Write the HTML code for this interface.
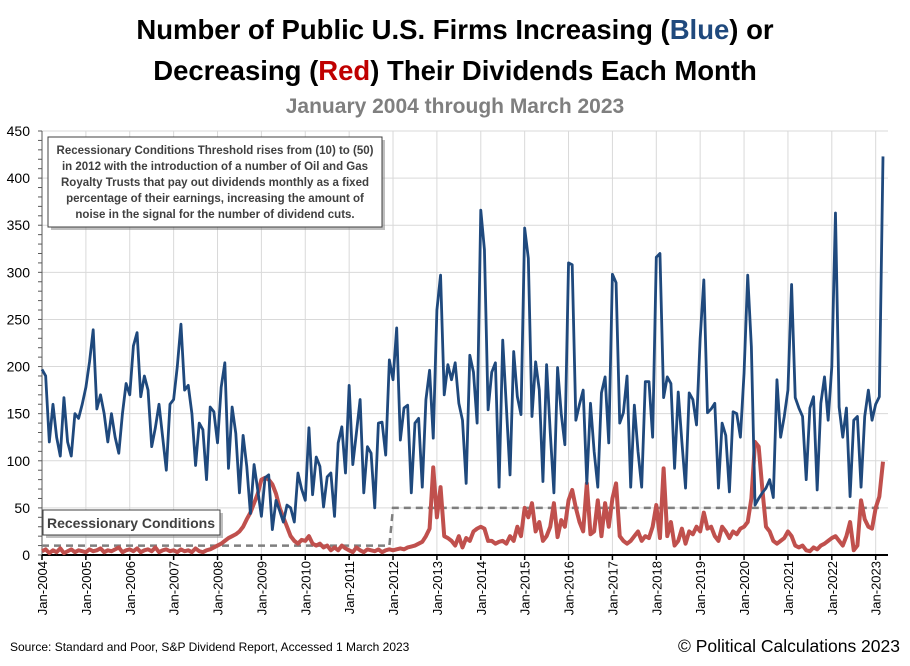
<!DOCTYPE html>
<html><head><meta charset="utf-8"><style>
body{margin:0;background:#fff;width:910px;height:661px;overflow:hidden;font-family:"Liberation Sans",sans-serif}
</style></head><body>
<svg id="chart" width="910" height="661" xmlns="http://www.w3.org/2000/svg" font-family="Liberation Sans, sans-serif">
<text x="455" y="39" text-anchor="middle" font-size="27.5" font-weight="bold" fill="#000">Number of Public U.S. Firms Increasing (<tspan fill="#1f497d">Blue</tspan>) or</text>
<text x="455" y="80" text-anchor="middle" font-size="27.5" font-weight="bold" fill="#000">Decreasing (<tspan fill="#c00000">Red</tspan>) Their Dividends Each Month</text>
<text x="455" y="113" text-anchor="middle" font-size="21" font-weight="bold" fill="#7f7f7f">January 2004 through March 2023</text>
<g id="grid"></g><g id="axes"></g><g id="series"></g>
<g>
<rect x="51" y="140" width="334" height="90" fill="#7f7f7f" opacity="0.5"/>
<rect x="48" y="137" width="334" height="90" fill="#fff" stroke="#404040" stroke-width="1"/>
<g font-size="11.5" font-weight="bold" fill="#404040" text-anchor="middle">
<text x="215" y="154">Recessionary Conditions Threshold rises from (10) to (50)</text>
<text x="215" y="170">in 2012 with the introduction of a number of Oil and Gas</text>
<text x="215" y="186">Royalty Trusts that pay out dividends monthly as a fixed</text>
<text x="215" y="202">percentage of their earnings, increasing the amount of</text>
<text x="215" y="218">noise in the signal for the number of dividend cuts.</text>
</g></g>
<g>
<rect x="46" y="513" width="177" height="25" fill="#7f7f7f" opacity="0.5"/>
<rect x="43" y="510" width="177" height="25" fill="#fff" stroke="#404040"/>
<text x="131" y="528" text-anchor="middle" font-size="14" font-weight="bold" fill="#404040">Recessionary Conditions</text>
</g>
<text x="10" y="651" font-size="12" fill="#000">Source: Standard and Poor, S&amp;P Dividend Report, Accessed 1 March 2023</text>
<text x="900" y="652" text-anchor="end" font-size="17.5" fill="#000">© Political Calculations 2023</text>
</svg>
<script>
const years=["2004","2005","2006","2007","2008","2009","2010","2011","2012","2013","2014","2015","2016","2017","2018","2019","2020","2021","2022","2023"];
const yTicks=[0,50,100,150,200,250,300,350,400,450];
const increases=[
197,190,120,160,125,105,167,120,105,150,145,160,
178,205,239,155,170,150,120,150,125,108,150,182,
170,222,236,168,190,175,115,135,160,125,90,160,
165,200,245,175,180,150,95,140,133,80,157,152,
119,178,204,92,157,129,66,127,94,44,96,69,
41,82,85,27,58,47,35,53,50,35,87,70,
58,135,64,104,94,51,83,87,41,119,136,87,
180,96,130,165,66,115,108,50,140,141,106,207,
186,241,122,156,159,66,140,145,72,165,196,124,
260,297,170,202,186,204,161,143,76,212,194,140,
366,324,154,194,204,72,228,157,85,216,168,149,
347,315,147,205,175,78,202,130,66,199,150,117,
310,308,143,160,175,76,161,110,72,172,189,119,
298,289,140,151,190,72,159,110,72,184,184,125,
316,320,167,189,182,92,173,120,71,172,165,138,
230,292,151,155,161,71,140,127,67,152,150,125,
193,297,221,53,60,66,71,80,61,186,125,147,
175,287,167,156,147,80,156,168,69,161,189,143,
200,363,157,125,156,62,143,147,72,147,175,143,
160,168,423];
const decreases=[
4,6,2,5,3,7,2,4,6,3,5,4,
3,6,4,5,7,3,5,4,6,8,3,5,
6,4,7,3,5,6,4,8,3,5,6,4,
5,3,6,4,5,3,7,4,3,5,6,8,
10,12,15,18,20,22,25,30,38,45,55,65,
80,82,80,75,65,50,40,30,20,15,12,16,
15,20,12,10,12,8,10,5,8,5,10,7,
5,3,8,5,3,6,5,4,6,3,5,6,
5,6,7,6,8,9,10,12,14,20,28,93,
40,72,20,18,15,10,20,8,18,15,25,28,
30,28,15,15,12,14,15,12,20,15,30,20,
50,40,55,25,35,15,20,30,55,19,37,30,
58,69,50,35,25,76,22,25,58,20,55,30,
60,76,20,15,12,15,20,25,15,20,18,30,
53,18,92,20,35,10,15,28,12,25,22,30,
25,45,28,30,20,15,30,25,18,25,22,28,
30,35,60,120,115,70,30,25,15,12,15,18,
25,20,10,8,10,5,4,8,6,10,12,15,
18,20,15,10,20,35,5,10,58,38,30,28,
50,62,99];
const thresholdLevels=[10,50];
const thresholdSwitchMonth=96;

const NS="http://www.w3.org/2000/svg";
const X0=42,XEND=883,Y0=555,YTOP=131,YMAX=450;
const nMonths=increases.length;
const xOf=i=>X0+i*(XEND-X0)/(nMonths-1);
const yOf=v=>Y0-v*(Y0-YTOP)/YMAX;
function mk(tag,attrs,parent){const e=document.createElementNS(NS,tag);for(const k in attrs)e.setAttribute(k,attrs[k]);parent.appendChild(e);return e;}
const grid=document.getElementById('grid'),axes=document.getElementById('axes'),ser=document.getElementById('series');
yTicks.forEach(v=>{
  const l=mk('line',{x1:X0,x2:888,y1:yOf(v),y2:yOf(v),stroke:'#d9d9d9','stroke-width':1},grid);
  
  
  const t=mk('text',{x:30,y:yOf(v)+5,'text-anchor':'end','font-size':14,fill:'#000'},axes);
  t.textContent=v;
  
  
});
for(let v=0;v<=YMAX;v+=10){mk('line',{x1:X0-4,x2:X0,y1:yOf(v),y2:yOf(v),stroke:'#595959'},axes);}
mk('line',{x1:X0,x2:X0,y1:YTOP,y2:Y0,stroke:'#595959'},axes);
years.forEach((y,k)=>{
  const x=xOf(k*12);
  if(k>0){const g=mk('line',{x1:x,x2:x,y1:YTOP,y2:Y0,stroke:'#d9d9d9'},grid);
  
  }
  mk('line',{x1:x,x2:x,y1:Y0,y2:Y0+5,stroke:'#000','stroke-width':1.5},axes);
  const t=mk('text',{x:0,y:0,transform:`translate(${x+5},${Y0+6}) rotate(-90)`,'text-anchor':'end','font-size':13,fill:'#000'},axes);
  t.textContent='Jan-'+y;
  
  
});
mk('line',{x1:X0,x2:888,y1:Y0,y2:Y0,stroke:'#000','stroke-width':2},axes);
const thr=mk('path',{d:`M${X0},${yOf(thresholdLevels[0])} L${xOf(thresholdSwitchMonth-1)},${yOf(thresholdLevels[0])} L${xOf(thresholdSwitchMonth)},${yOf(thresholdLevels[1])} L${xOf(nMonths-1)},${yOf(thresholdLevels[1])}`,fill:'none',stroke:'#7f7f7f','stroke-width':2.5,'stroke-dasharray':'7,5'},ser);


function line(arr){return arr.map((v,i)=>(i?'L':'M')+xOf(i).toFixed(2)+','+yOf(v).toFixed(2)).join(' ');}
const red=mk('path',{d:line(decreases),fill:'none',stroke:'#c0504d','stroke-width':4,'stroke-linejoin':'round'},ser);


const blue=mk('path',{d:line(increases),fill:'none',stroke:'#1f497d','stroke-width':2.8,'stroke-linejoin':'round'},ser);


</script>
</body></html>
